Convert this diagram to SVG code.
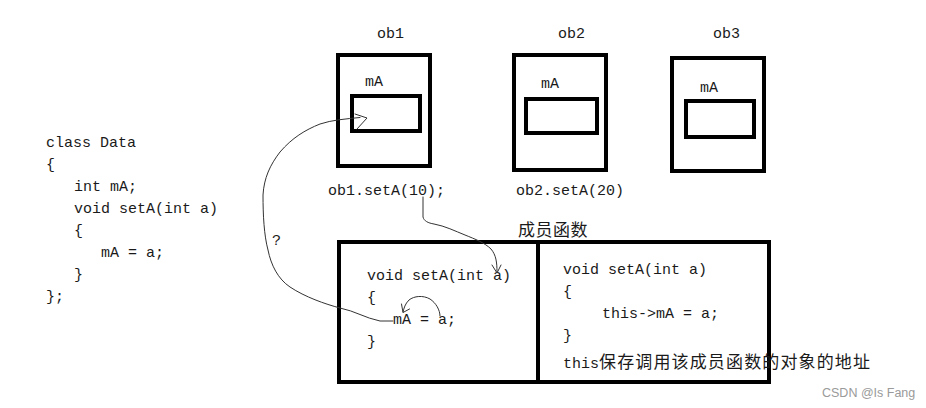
<svg xmlns="http://www.w3.org/2000/svg" width="926" height="408" viewBox="0 0 926 408">
<style>
.code{font-family:"Liberation Mono","DejaVu Sans Mono",monospace;font-size:15px;fill:#1a1a1a;}
.cjk{font-family:"Noto Sans CJK SC","Noto Sans CJK JP",sans-serif;font-size:17px;fill:#1a1a1a;}
.box{fill:none;stroke:#000;stroke-width:4;}
.wire{fill:none;stroke:#333;stroke-width:1;stroke-linejoin:round;stroke-linecap:round;}
.wm{font-family:"Liberation Sans",Arial,sans-serif;font-size:12.5px;fill:#9a9a9a;}
</style>
<rect width="926" height="408" fill="#fff"/>

<g id="class-code">
<text class="code" x="46" y="147">class Data</text>
<text class="code" x="46" y="169">{</text>
<text class="code" x="74" y="191">int mA;</text>
<text class="code" x="74" y="213">void setA(int a)</text>
<text class="code" x="74" y="235">{</text>
<text class="code" x="101" y="257">mA = a;</text>
<text class="code" x="74" y="279">}</text>
<text class="code" x="46" y="301">};</text>
</g>

<g id="ob1">
<text class="code" x="377" y="38">ob1</text>
<rect class="box" x="338" y="55" width="92" height="111"/>
<text class="code" x="365" y="86">mA</text>
<rect class="box" x="352" y="96" width="68" height="35"/>
<text class="code" x="328" y="195">ob1.setA(10);</text>
</g>

<g id="ob2">
<text class="code" x="558" y="38">ob2</text>
<rect class="box" x="514" y="55" width="92" height="115"/>
<text class="code" x="541" y="88">mA</text>
<rect class="box" x="526" y="99" width="71" height="34"/>
<text class="code" x="516" y="195">ob2.setA(20)</text>
</g>

<g id="ob3">
<text class="code" x="713" y="38">ob3</text>
<rect class="box" x="672" y="58" width="92" height="113"/>
<text class="code" x="700" y="92">mA</text>
<rect class="box" x="686" y="101" width="68" height="36"/>
</g>

<g id="member-function">
<text class="cjk" x="518" y="236" font-size="17.5" letter-spacing="0.5">成员函数</text>
<rect class="box" x="339" y="242" width="430" height="140"/>
<line class="box" x1="538" y1="242" x2="538" y2="382"/>
<text class="code" x="367" y="280">void setA(int a)</text>
<text class="code" x="367" y="302">{</text>
<text class="code" x="393" y="324">mA = a;</text>
<text class="code" x="367" y="346">}</text>
<text class="code" x="563" y="274">void setA(int a)</text>
<text class="code" x="563" y="296">{</text>
<text class="code" x="602" y="318">this-&gt;mA = a;</text>
<text class="code" x="563" y="340">}</text>
<text class="code" x="563" y="368">this</text>
<text class="cjk" x="599" y="368" textLength="271" lengthAdjust="spacing">保存调用该成员函数的对象的地址</text>
</g>

<g id="connectors">
<path class="wire" d="M393,321 L380,321 C365,318 355,311 340,308 C325,304 305,297 290,287 C278,279 271,265 268,250 C264,235 263,215 263,195 C264,178 270,165 280,152 C292,138 305,130 320,124 C332,120 345,119 360,117.5"/>
<polyline class="wire" points="355,114 367,118 357,129"/>
<path class="wire" d="M423,197 L423,217 C424,221 428,223 434,224 C445,226 455,231 465,235 C475,239 485,243 491,249 C496,255 497,262 497,272"/>
<polyline class="wire" points="492,265 497,273 501,265"/>
<path class="wire" d="M440,316 C440,310 436,303 430,299 C423,295 414,296 409,300 C405,304 404,308 403,312"/>
<polyline class="wire" points="401.5,304 403,312.5 409.5,309"/>
<text class="code" x="272" y="245">?</text>
</g>

<text class="wm" x="822" y="397">CSDN @Is Fang</text>
</svg>
